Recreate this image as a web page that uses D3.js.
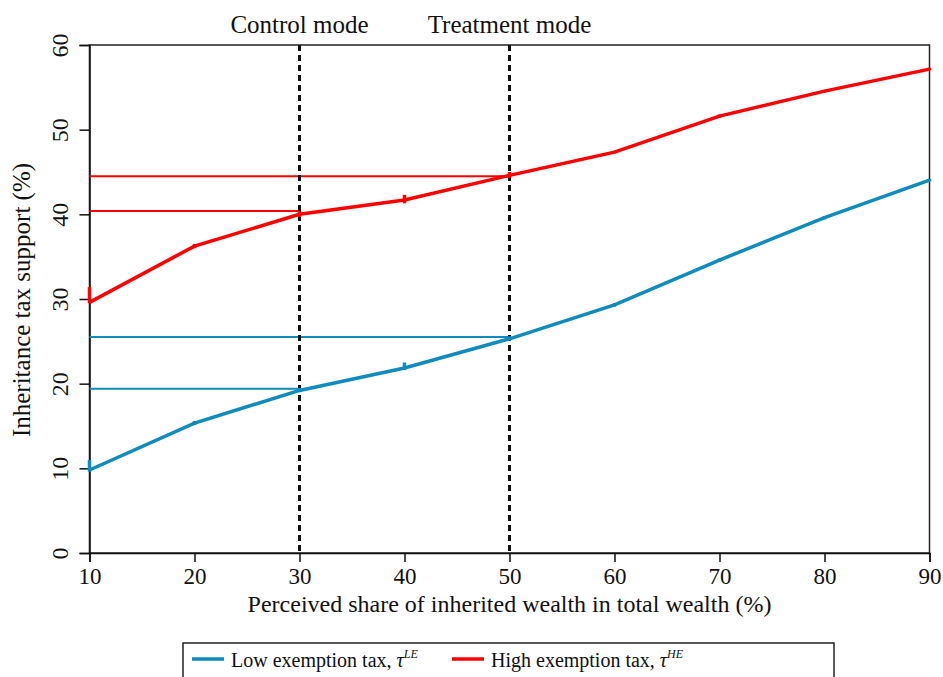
<!DOCTYPE html>
<html>
<head>
<meta charset="utf-8">
<script src="https://cdn.jsdelivr.net/npm/d3@7"></script>
<style>
  body { margin: 0; background: #fff; }
  text { font-family: "Liberation Serif", "DejaVu Serif", serif; fill: #111; }
</style>
</head>
<body>
<div id="chart"></div>
<script>
// perceived share of inherited wealth (x)
var shares = [10, 20, 30, 40, 50, 60, 70, 80, 90];
// low exemption tax support (%)
var lowTax = [9.8, 15.35, 19.2, 21.85, 25.3, 29.3, 34.6, 39.6, 44.05];
var lowErrLo = [9.6, 15.1, 19.0, 21.6, 25.1, 29.1, 34.4, 39.4, 43.9];
var lowErrHi = [11.0, 15.6, 19.5, 22.5, 25.6, 29.5, 34.8, 39.8, 44.2];
// high exemption tax support (%)
var highTax = [29.6, 36.25, 40.0, 41.7, 44.6, 47.35, 51.6, 54.55, 57.15];
var highErrLo = [29.5, 36.0, 39.7, 41.3, 44.3, 47.2, 51.4, 54.4, 57.0];
var highErrHi = [31.4, 36.5, 40.4, 42.3, 45.0, 47.5, 51.8, 54.7, 57.3];
// reference levels: [value, share where it ends]
var lowRefs = [[19.4, 30], [25.5, 50]];
var highRefs = [[40.4, 30], [44.5, 50]];
var modes = [[30, "Control mode"], [50, "Treatment mode"]];
var xTicks = [10, 20, 30, 40, 50, 60, 70, 80, 90];
var yTicks = [0, 10, 20, 30, 40, 50, 60];

var blue = "#0f8bbd", red = "#ff0000";

var svg = d3.select("#chart").append("svg")
  .attr("width", 943).attr("height", 677);

var x = d3.scaleLinear().domain([10, 90]).range([89.5, 929.5]);
var y = d3.scaleLinear().domain([0, 60]).range([553, 45]);

// frame
svg.append("rect")
  .attr("x", x(10)).attr("y", y(60))
  .attr("width", x(90) - x(10)).attr("height", y(0) - y(60))
  .attr("fill", "none").attr("stroke", "#222").attr("stroke-width", 1.5);

// axes
var xAxis = svg.append("g")
  .attr("transform", "translate(0," + y(0) + ")")
  .call(d3.axisBottom(x).tickValues(xTicks).tickSize(9).tickPadding(6));
xAxis.selectAll("text").style("font-size", "23px").attr("font-family", "Liberation Serif");

var yAxis = svg.append("g")
  .attr("transform", "translate(" + x(10) + ",0)")
  .call(d3.axisLeft(y).tickValues(yTicks).tickSize(10).tickFormat(d3.format("d")));
yAxis.selectAll("text")
  .style("font-size", "24px")
  .attr("text-anchor", "middle")
  .attr("x", 0).attr("y", 0).attr("dy", null)
  .attr("transform", "translate(-22,0) rotate(-90)");
svg.selectAll(".domain").attr("stroke", "#111").attr("stroke-width", 1.5);
svg.selectAll(".tick line").attr("stroke", "#111").attr("stroke-width", 1.5);

// axis titles
svg.append("text")
  .attr("x", x(50)).attr("y", 612)
  .attr("text-anchor", "middle").style("font-size", "24px")
  .text("Perceived share of inherited wealth in total wealth (%)");
svg.append("text")
  .attr("transform", "translate(30," + 300 + ") rotate(-90)")
  .attr("text-anchor", "middle").style("font-size", "25px")
  .text("Inheritance tax support (%)");

// reference horizontal lines
svg.selectAll(".lref").data(lowRefs).enter().append("line")
  .attr("x1", x(10)).attr("x2", function(d) { return x(d[1]); })
  .attr("y1", function(d) { return y(d[0]); }).attr("y2", function(d) { return y(d[0]); })
  .attr("stroke", blue).attr("stroke-width", 2);
svg.selectAll(".href").data(highRefs).enter().append("line")
  .attr("x1", x(10)).attr("x2", function(d) { return x(d[1]); })
  .attr("y1", function(d) { return y(d[0]); }).attr("y2", function(d) { return y(d[0]); })
  .attr("stroke", red).attr("stroke-width", 2);

// mode lines
svg.selectAll(".mode").data(modes).enter().append("line")
  .attr("x1", function(d) { return x(d[0]); }).attr("x2", function(d) { return x(d[0]); })
  .attr("y1", y(60)).attr("y2", y(0))
  .attr("stroke", "#111").attr("stroke-width", 3).attr("stroke-dasharray", "6,4");
svg.selectAll(".modelabel").data(modes).enter().append("text")
  .attr("x", function(d) { return x(d[0]); }).attr("y", 33)
  .attr("text-anchor", "middle").style("font-size", "25px")
  .text(function(d) { return d[1]; });

// series
function drawSeries(vals, lo, hi, color) {
  var line = d3.line()
    .x(function(d, i) { return x(shares[i]); })
    .y(function(d) { return y(d); });
  svg.append("path").datum(vals)
    .attr("d", line).attr("fill", "none")
    .attr("stroke", color).attr("stroke-width", 3.5);
  svg.selectAll(null).data(shares).enter().append("line")
    .attr("x1", function(d) { return x(d); }).attr("x2", function(d) { return x(d); })
    .attr("y1", function(d, i) { return y(lo[i]); })
    .attr("y2", function(d, i) { return y(hi[i]); })
    .attr("stroke", color).attr("stroke-width", 3.5);
}
drawSeries(lowTax, lowErrLo, lowErrHi, blue);
drawSeries(highTax, highErrLo, highErrHi, red);

// legend
var leg = svg.append("g");
leg.append("rect")
  .attr("x", 183).attr("y", 643).attr("width", 651).attr("height", 40)
  .attr("fill", "#fff").attr("stroke", "#222").attr("stroke-width", 1.5);
var items = [[blue, "Low exemption tax, ", "LE", 192], [red, "High exemption tax, ", "HE", 452]];
items.forEach(function(it) {
  leg.append("line")
    .attr("x1", it[3]).attr("x2", it[3] + 32)
    .attr("y1", 659).attr("y2", 659)
    .attr("stroke", it[0]).attr("stroke-width", 3.5);
  var t = leg.append("text")
    .attr("x", it[3] + 39).attr("y", 667)
    .style("font-size", "20px");
  t.append("tspan").text(it[1]);
  t.append("tspan").style("font-style", "italic").text("\u03c4");
  t.append("tspan").attr("dy", -9).style("font-style", "italic").style("font-size", "12px").text(it[2]);
});
</script>
</body>
</html>
